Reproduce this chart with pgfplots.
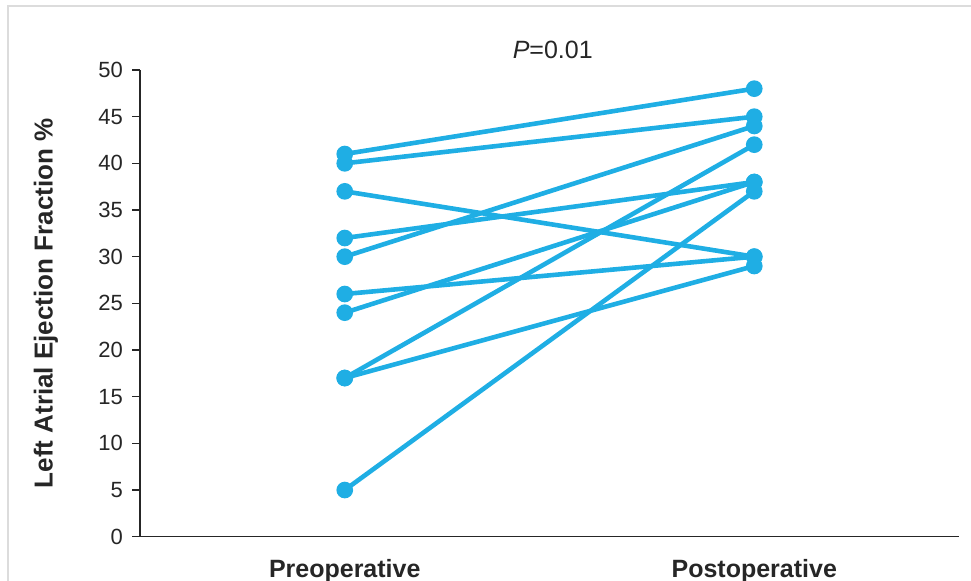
\documentclass[border=0pt]{standalone}
\usepackage{pgfplots}
\pgfplotsset{compat=1.18}
\usepackage{fontspec}
\setmainfont{Liberation Sans}
\definecolor{laef}{HTML}{1FAEE4}
\definecolor{framegray}{HTML}{DCDCDC}
\definecolor{axisgray}{HTML}{262626}

\pgfplotsset{patient/.style={laef, line width=4.6bp, mark=*, mark size=6bp, mark options={draw=none, fill=laef}}}

\begin{document}
\begin{tikzpicture}
\useasboundingbox (0,0) rectangle (971bp,581bp);
% outer frame
\draw[framegray, line width=2bp] (8bp,-20bp) |- (990bp,575bp);
\begin{axis}[
  at={(140bp,44.3bp)}, anchor=south west,
  scale only axis, width=819bp, height=466.7bp,
  xmin=0.5, xmax=2.5, ymin=0, ymax=50,
  axis x line=bottom, axis y line=left,
  axis line style={-, axisgray, line width=1.4bp},
  xtick={1,2}, xticklabels={Preoperative,Postoperative},
  x tick style={draw=none},
  ytick={0,5,...,50},
  y tick style={axisgray, line width=1.2bp},
  tick align=outside, major tick length=8bp,
  /pgf/number format/assume math mode=true,
  yticklabel style={font=\fontsize{22bp}{26bp}\selectfont, color=axisgray, inner sep=0pt, xshift=-9bp},
  xticklabel style={font=\bfseries\fontsize{25bp}{30bp}\selectfont, color=axisgray, anchor=base, inner sep=0pt, yshift=-33bp},
  ylabel={Left Atrial Ejection Fraction \%},
  ylabel style={font=\bfseries\fontsize{26bp}{30bp}\selectfont, color=axisgray, at={(axis description cs:-0.1148,0.5)}, anchor=center},
  clip=false,
]
% each patient: preoperative -> postoperative
\addplot[patient] coordinates {(1,41) (2,48)};
\addplot[patient] coordinates {(1,40) (2,45)};
\addplot[patient] coordinates {(1,37) (2,30)};
\addplot[patient] coordinates {(1,32) (2,38)};
\addplot[patient] coordinates {(1,30) (2,44)};
\addplot[patient] coordinates {(1,26) (2,30)};
\addplot[patient] coordinates {(1,24) (2,38)};
\addplot[patient] coordinates {(1,17) (2,42)};
\addplot[patient] coordinates {(1,17) (2,29)};
\addplot[patient] coordinates {(1,5) (2,37)};
\node[font=\fontsize{25bp}{30bp}\selectfont, color=axisgray, anchor=center] at (rel axis cs:0.504,1.043) {\textit{P}=0.01};
\end{axis}
\end{tikzpicture}
\end{document}
